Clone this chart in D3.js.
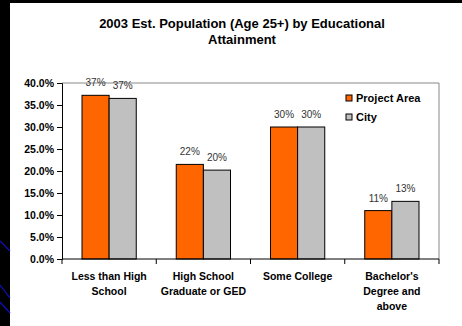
<!DOCTYPE html>
<html>
<head>
<meta charset="utf-8">
<script src="https://cdn.jsdelivr.net/npm/d3@7"></script>
<style>
  body { margin: 0; background: #fff; }
  svg { display: block; font-family: Arial, "Liberation Sans", sans-serif; }
  .axis path, .axis line { stroke: #000; }
  .axis text { font-weight: bold; font-size: 10.5px; fill: #000; }
</style>
</head>
<body>
<div id="chart"></div>
<script>
const width = 462,
  height = 326,
  margin = { top: 83, bottom: 67, left: 62, right: 23 };

// data
const categories = [
  ["Less than High", "School"],
  ["High School", "Graduate or GED"],
  ["Some College"],
  ["Bachelor's", "Degree and", "above"]
];
const series = ["Project Area", "City"];
const projectArea = [0.372, 0.215, 0.30, 0.11];
const city = [0.365, 0.202, 0.30, 0.131];
const labels = [["37%", "37%"], ["22%", "20%"], ["30%", "30%"], ["11%", "13%"]];
const colors = ["#FF6600", "#C0C0C0"];

const svg = d3.select("#chart")
  .append("svg")
  .attr("width", width)
  .attr("height", height);

// black frame on the left / top
svg.append("rect").attr("x", 0).attr("y", 0).attr("width", 10).attr("height", height).attr("fill", "#000");
svg.append("rect").attr("x", 0).attr("y", 0).attr("width", width).attr("height", 3).attr("fill", "#000");
[[241, 251], [285, 298], [302, 313]].forEach(([y1, y2]) => {
  svg.append("line")
    .attr("x1", 0).attr("y1", y1).attr("x2", 10).attr("y2", y2)
    .attr("stroke", "#1010c0").attr("stroke-width", 1.2);
});

const x0 = d3.scaleBand()
  .domain(d3.range(categories.length))
  .range([margin.left, width - margin.right])
  .padding(0);

const x1 = d3.scaleBand()
  .domain(series)
  .range([20, x0.bandwidth() - 20]);

const y = d3.scaleLinear()
  .domain([0, 0.4])
  .range([height - margin.bottom, margin.top]);

// title
svg.append("text")
  .attr("x", 242)
  .attr("text-anchor", "middle")
  .attr("font-weight", "bold")
  .attr("font-size", "13px")
  .selectAll("tspan")
  .data(["2003 Est. Population (Age 25+) by Educational", "Attainment"])
  .join("tspan")
  .attr("x", 242)
  .attr("y", (d, i) => 28 + i * 16)
  .text(d => d);

// plot area border (top and right)
svg.append("path")
  .attr("d", `M${margin.left},${margin.top}H${width - margin.right}V${height - margin.bottom}`)
  .attr("fill", "none")
  .attr("stroke", "#888");

// bars
const values = categories.map((c, i) => [projectArea[i], city[i]]);
const group = svg.selectAll(".group")
  .data(values)
  .join("g")
  .attr("class", "group")
  .attr("transform", (d, i) => `translate(${x0(i)},0)`);

group.selectAll("rect")
  .data(d => d.map((v, j) => ({ v, j })))
  .join("rect")
  .attr("x", d => x1(series[d.j]))
  .attr("y", d => y(d.v))
  .attr("width", x1.bandwidth())
  .attr("height", d => y(0) - y(d.v))
  .attr("fill", d => colors[d.j])
  .attr("stroke", "#000")
  .attr("stroke-width", 1);

group.selectAll(".lbl")
  .data((d, i) => d.map((v, j) => ({ v, j, t: labels[i][j] })))
  .join("text")
  .attr("class", "lbl")
  .attr("x", d => x1(series[d.j]) + x1.bandwidth() / 2)
  .attr("y", d => y(d.v) - 9)
  .attr("text-anchor", "middle")
  .attr("font-size", "10px")
  .attr("fill", "#333")
  .text(d => d.t);

// axes
svg.append("g")
  .attr("class", "axis y-axis")
  .attr("transform", `translate(${margin.left},0)`)
  .call(d3.axisLeft(y).tickValues(d3.range(0, 0.401, 0.05)).tickFormat(d3.format(".1%")).tickSize(5).tickPadding(3));

const xAxis = svg.append("g")
  .attr("class", "axis x-axis")
  .attr("transform", `translate(0,${height - margin.bottom})`);
xAxis.append("line")
  .attr("x1", margin.left).attr("x2", width - margin.right)
  .attr("stroke", "#000");
xAxis.selectAll(".tick")
  .data(d3.range(categories.length + 1))
  .join("line")
  .attr("class", "tick")
  .attr("x1", i => margin.left + i * x0.step())
  .attr("x2", i => margin.left + i * x0.step())
  .attr("y1", 0).attr("y2", 5)
  .attr("stroke", "#000");

xAxis.selectAll(".cat")
  .data(categories)
  .join("text")
  .attr("class", "cat")
  .attr("text-anchor", "middle")
  .attr("font-weight", "bold")
  .attr("font-size", "10.5px")
  .selectAll("tspan")
  .data((d, i) => d.map(t => ({ t, i })))
  .join("tspan")
  .attr("x", d => x0(d.i) + x0.bandwidth() / 2)
  .attr("y", (d, k) => 21 + k * 15)
  .text(d => d.t);

// legend
const legend = svg.append("g")
  .attr("transform", "translate(346,95)");
legend.selectAll("rect")
  .data(series)
  .join("rect")
  .attr("x", 0)
  .attr("y", (d, i) => i * 19)
  .attr("width", 6)
  .attr("height", 6)
  .attr("fill", (d, i) => colors[i])
  .attr("stroke", "#000");
legend.selectAll("text")
  .data(series)
  .join("text")
  .attr("x", 10)
  .attr("y", (d, i) => i * 19 + 7)
  .attr("font-weight", "bold")
  .attr("font-size", "11px")
  .text(d => d);
</script>
</body>
</html>
